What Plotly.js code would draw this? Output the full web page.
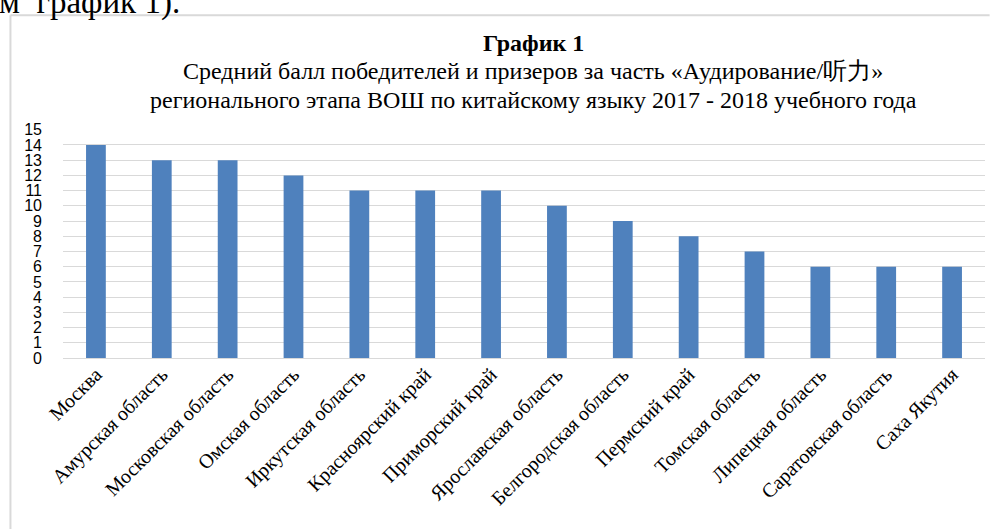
<!DOCTYPE html>
<html>
<head>
<meta charset="utf-8">
<script src="https://cdn.plot.ly/plotly-3.0.1.min.js"></script>
<style>html,body{margin:0;padding:0;background:#fff;}#chart{width:995px;height:529px;}</style>
</head>
<body>
<div id="chart"></div>
<script>
const regions = ["Москва","Амурская область","Московская область","Омская область","Иркутская область","Красноярский край","Приморский край","Ярославская область","Белгородская область","Пермский край","Томская область","Липецкая область","Саратовская область","Саха Якутия"];
const scores = [14,13,13,12,11,11,11,10,9,8,7,6,6,6];
const yTicks = [0,1,2,3,4,5,6,7,8,9,10,11,12,13,14,15];
const titleLines = ["<b>График 1</b>","Средний балл победителей и призеров за часть «Аудирование/听力»","регионального этапа ВОШ по китайскому языку 2017 - 2018 учебного года"];
const pageText = "м\u00a0 график 1).";

const serif = "Liberation Serif, Times New Roman, serif";
const narrow = "Liberation Sans Narrow, Arial Narrow, Liberation Sans, sans-serif";
const trace = {
  type: "bar", x: regions, y: scores,
  marker: {color: "#4f81bd"}, hoverinfo: "none"
};
const layout = {
  width: 995, height: 529,
  margin: {l: 63, r: 10, t: 129, b: 171},
  paper_bgcolor: "#ffffff", plot_bgcolor: "#ffffff",
  bargap: 0.7,
  showlegend: false,
  title: {text: "", font: {family: serif, size: 24, color: "#000"}},
  xaxis: {tickangle: -45, tickfont: {family: serif, size: 20, color: "#000"}, showgrid: false, showline: false, ticks: "", fixedrange: true},
  yaxis: {range: [0, 15.05], tickvals: yTicks, ticktext: yTicks.map(String), tickfont: {family: narrow, size: 16, color: "#000"}, ticklabelstandoff: 20, gridcolor: "#d9d9d9", gridwidth: 1, zeroline: true, zerolinecolor: "#d9d9d9", zerolinewidth: 1, ticks: "", ticklen: 0, showline: false, fixedrange: true},
  shapes: [
    {type: "line", xref: "paper", yref: "paper", x0: -0.057, x1: 1.005, y0: 1.497, y1: 1.497, line: {color: "#d9d9d9", width: 2}},
    {type: "line", xref: "paper", yref: "paper", x0: -0.057, x1: -0.057, y0: 1.497, y1: -0.8, line: {color: "#d9d9d9", width: 2}}
  ],
  annotations: [
    {text: pageText, xref: "paper", yref: "paper", x: -0.072, y: 1.463, xanchor: "left", yanchor: "bottom", showarrow: false, font: {family: serif, size: 33, color: "#000"}}
  ]
};
const titleY = [1.375, 1.253, 1.128];
titleLines.forEach((t, i) => {
  layout.annotations.push({text: t, xref: "paper", yref: "paper", x: 0.51, y: titleY[i], xanchor: "center", yanchor: "middle", showarrow: false, font: {family: serif, size: 24, color: "#000"}});
});
Plotly.newPlot("chart", [trace], layout, {staticPlot: true, displayModeBar: false});
</script>
</body>
</html>
